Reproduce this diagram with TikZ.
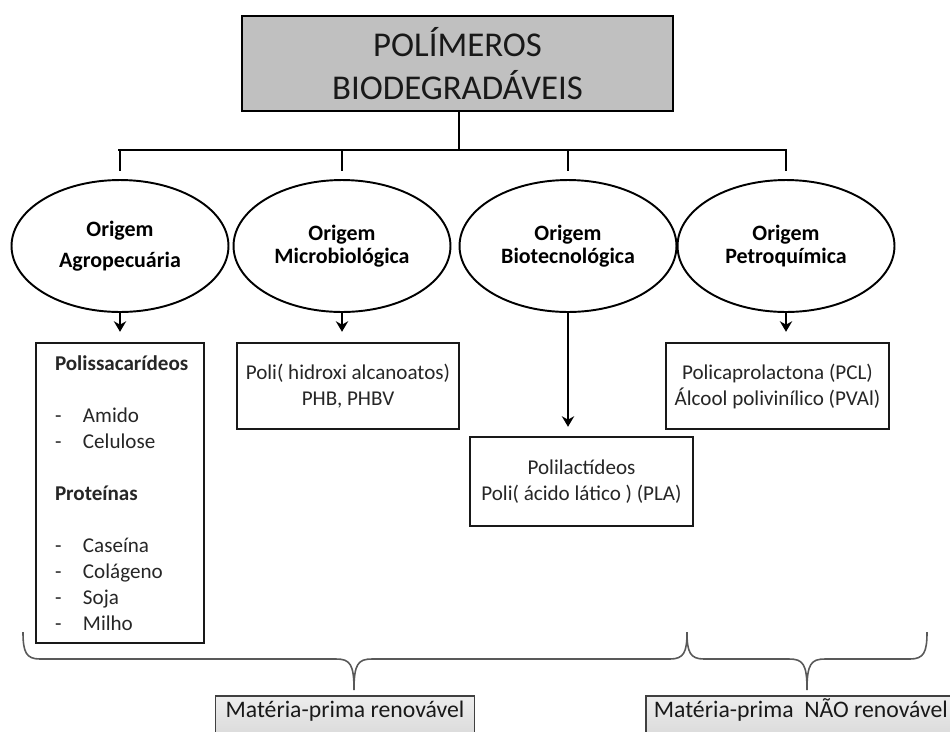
\documentclass[tikz,border=0pt]{standalone}
\usepackage{fontspec}
\setmainfont{Carlito}
\usetikzlibrary{shapes.geometric,arrows.meta}
\definecolor{titlegray}{HTML}{C0C0C0}
\definecolor{txt}{HTML}{262626}
\begin{document}
\begin{tikzpicture}[x=0.02cm,y=-0.02cm,
  titlebox/.style={draw=black,line width=1.4pt,fill=titlegray,inner sep=0pt,align=center,
    minimum width=8.62cm,minimum height=1.9cm,font=\fontsize{19.8pt}{24.4pt}\selectfont,text=black!90},
  box/.style={draw=black!90,line width=1.4pt,fill=white,inner sep=0pt,align=center,
    font=\fontsize{12pt}{14.8pt}\selectfont,text=txt},
  oval/.style={ellipse,draw=black,line width=1.1pt,minimum width=4.34cm,minimum height=2.64cm,
    inner sep=0pt,align=center,font=\fontsize{12.5pt}{13pt}\selectfont\bfseries},
  conn/.style={line width=1.2pt},
  arr/.style={line width=1.2pt,-{Stealth[length=6pt,width=7pt]}},
  bracepath/.style={draw=black!65,line width=0.9pt},
  basebox/.style={draw=black!75,line width=1pt,top color=black!7,bottom color=black!20,
    inner ysep=0.2cm,text height=0.65em,text depth=0.8cm,
    font=\fontsize{13.5pt}{16pt}\selectfont,text=black!90}]
\useasboundingbox (0,0) rectangle (950,731);
\clip (0,0) rectangle (950,731);

% title
\node[titlebox] (title) at (457.5,63.5) {POLÍMEROS\\BIODEGRADÁVEIS};

% ellipses
\node[oval,font=\fontsize{12.5pt}{17.6pt}\selectfont\bfseries] (e1) at (120,246) {Origem\\Agropecuária};
\node[oval] (e2) at (342,246) {Origem\\Microbiológica};
\node[oval] (e3) at (568,246) {Origem\\Biotecnológica};
\node[oval] (e4) at (786,246) {Origem\\Petroquímica};

% tree connectors
\coordinate (hb) at (459,150);
\coordinate (hl) at (119,150);
\coordinate (hr) at (786,150);
\draw[conn] (title.south -| hb) -- (hb);
\draw[conn,line cap=rect] (hl) -- (hr);
\draw[conn] (e1.north |- hb) -- ([yshift=0.16cm]e1.north);
\draw[conn] (e2.north |- hb) -- ([yshift=0.16cm]e2.north);
\draw[conn] (e3.north |- hb) -- ([yshift=0.16cm]e3.north);
\draw[conn] (e4.north |- hb) -- ([yshift=0.16cm]e4.north);

% boxes
\node[box,align=left,minimum width=3.36cm,minimum height=6cm,text width=2.6cm,inner xsep=0.38cm] (b1) at (120,493)
 {\textbf{Polissacarídeos}\\[14.8pt]
  \makebox[0.56cm][l]{-}Amido\\
  \makebox[0.56cm][l]{-}Celulose\\[14.8pt]
  \textbf{Proteínas}\\[14.8pt]
  \makebox[0.56cm][l]{-}Caseína\\
  \makebox[0.56cm][l]{-}Colágeno\\
  \makebox[0.56cm][l]{-}Soja\\
  \makebox[0.56cm][l]{-}Milho};
\node[box,minimum width=4.44cm,minimum height=1.72cm] (b2) at (348,386)
 {Poli( hidroxi alcanoatos)\\PHB, PHBV};
\node[box,minimum width=4.46cm,minimum height=1.78cm] (b3) at (581.5,481.5)
 {Polilactídeos\\Poli( ácido lático ) (PLA)};
\node[box,minimum width=4.46cm,minimum height=1.72cm] (b4) at (777.5,386)
 {Policaprolactona (PCL)\\Álcool polivinílico (PVAl)};

% arrows
\draw[arr,shorten >=0.2cm] (e1.south) -- (e1.south |- b1.north);
\draw[arr,shorten >=0.2cm] (e2.south) -- (e2.south |- b2.north);
\draw[arr,shorten >=0.18cm] (e3.south) -- (e3.south |- b3.north);
\draw[arr,shorten >=0.2cm] (e4.south) -- (e4.south |- b4.north);

% bottom boxes
\node[basebox,anchor=north,inner xsep=0.2cm] (r1) at (345,695) {Matéria-prima renovável};
\node[basebox,anchor=north west,inner xsep=0.16cm] (r2) at (645,695) {Matéria-prima\ \ NÃO renovável};

% braces
\coordinate (brL) at (23,632);
\coordinate (brM) at (687,632);
\coordinate (brR) at (927,632);
\coordinate (tip1) at (354,690);
\coordinate (tip2) at (807,690);
\draw[bracepath] (brL) .. controls (23,652) and (26,659) .. (40,659) -- (336,659)
  .. controls (350,659) and (354,664) .. (tip1)
  .. controls (354,664) and (358,659) .. (372,659) -- (670,659)
  .. controls (684,659) and (687,652) .. (brM);
\draw[bracepath] (brM) .. controls (687,652) and (690,659) .. (704,659) -- (789,659)
  .. controls (803,659) and (807,664) .. (tip2)
  .. controls (807,664) and (811,659) .. (825,659) -- (910,659)
  .. controls (924,659) and (927,652) .. (brR);
\end{tikzpicture}
\end{document}
